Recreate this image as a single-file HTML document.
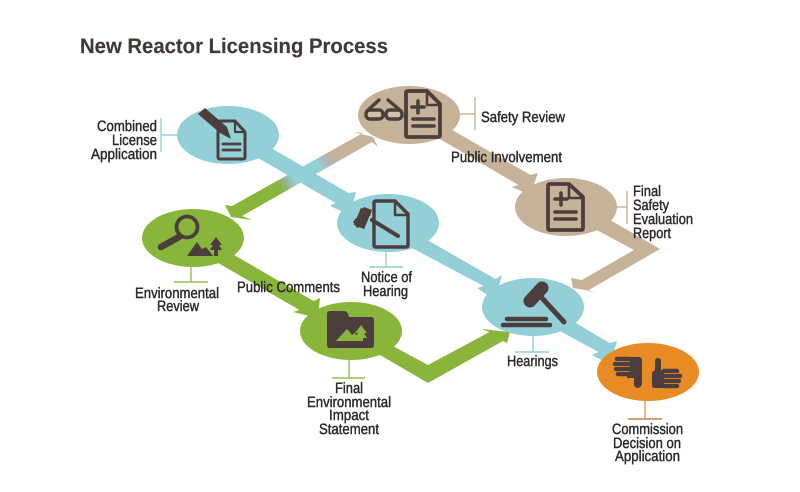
<!DOCTYPE html>
<html>
<head>
<meta charset="utf-8">
<style>
html,body{margin:0;padding:0;background:#fff;width:800px;height:492px;overflow:hidden}
svg{display:block;filter:blur(.3px)}
text{font-family:"Liberation Sans",sans-serif;font-size:15px;fill:#2a2627;stroke:#2a2627;stroke-width:.42px;text-rendering:geometricPrecision}
.t{font-size:21px;font-weight:bold;fill:#433838;stroke:#433838;stroke-width:.15px}
</style>
</head>
<body>
<svg width="800" height="492" viewBox="0 0 800 492" xmlns="http://www.w3.org/2000/svg">
<defs>
<linearGradient id="g" gradientUnits="userSpaceOnUse" x1="232" y1="211" x2="373" y2="130">
<stop offset="0" stop-color="#8ab53b"/>
<stop offset=".32" stop-color="#8ab53b"/>
<stop offset=".37" stop-color="#93b58a"/>
<stop offset=".43" stop-color="#93cfd7"/>
<stop offset=".6" stop-color="#93cfd7"/>
<stop offset=".66" stop-color="#b3b5b2"/>
<stop offset=".72" stop-color="#c5b298"/>
<stop offset="1" stop-color="#c5b298"/>
</linearGradient>
</defs>

<text class="t" x="80" y="53" textLength="308" lengthAdjust="spacingAndGlyphs">New Reactor Licensing Process</text>

<!-- leader lines -->
<g fill="none" stroke-width="1.4">
<path stroke="#93cfd7" d="M161 118V152M161 135H178"/>
<path stroke="#c9b69c" d="M475 97V130M459 114H475"/>
<path stroke="#c9b69c" d="M627 191V224M616 207H627"/>
<path stroke="#93c050" d="M191 266V282M174 282H208"/>
<path stroke="#93cfd7" d="M386 251V267M369 267H403"/>
<path stroke="#93c050" d="M349 359V378M332 378H365"/>
<path stroke="#93cfd7" d="M533 335V352M515 352H549"/>
<path stroke="#e4965a" d="M645 400V419"/><path stroke="#c98146" d="M628 419H662"/>
</g>

<!-- cross band green to tan -->
<polygon fill="url(#g)" points="225,205 232,206 363,133 353,132 373,137 378,147 372,142 242,216 252,220 231,217"/>
<!-- blue band -->
<polygon fill="#93cfd7" points="262.5,143 348.5,193 356,192 350,215 330,206 335.5,203 249.5,153"/>
<!-- blue: notice to hearings -->
<polygon fill="#93cfd7" points="418.5,235 495.5,279 502,275 495,300 477,288 483.5,286 404.5,244"/>
<!-- blue: hearings to commission -->
<polygon fill="#93cfd7" points="567.5,318 609.5,343 617,341 610,365 592,355 598.5,352 552.5,327"/>
<!-- tan: safety to final -->
<polygon fill="#c5b298" points="443.5,125 530.5,175 538,173 530,195 512,187 518.5,185 429.5,133"/>
<!-- tan: final to hearings -->
<polygon fill="#c5b298" points="601.5,215 660,249 587,291 597,292 573,288 571,278 582,280 634,250 587.5,225"/>
<!-- green: env to FEIS -->
<polygon fill="#8ab53b" points="225.5,250 313.5,301 320,298 318,318 293,312 299.5,310 209.5,258"/>
<!-- green: FEIS to hearings -->
<polygon fill="#8ab53b" points="383.5,341 428,365 489.5,332 481,329 510,332 507,343 503,341 428,383 371.5,350"/>

<!-- nodes -->
<ellipse cx="228" cy="135" rx="51" ry="29" fill="#93cfd7"/>
<ellipse cx="409" cy="115" rx="51" ry="29" fill="#c5b298"/>
<ellipse cx="566" cy="207" rx="51" ry="29" fill="#c5b298"/>
<ellipse cx="388" cy="223" rx="51" ry="29" fill="#93cfd7"/>
<ellipse cx="193" cy="238" rx="51" ry="29" fill="#8ab53b"/>
<ellipse cx="351" cy="331" rx="51" ry="29" fill="#8ab53b"/>
<ellipse cx="533" cy="307" rx="51" ry="29" fill="#93cfd7"/>
<ellipse cx="648" cy="372" rx="51" ry="29" fill="#e88b24"/>

<!-- icons -->
<g fill="none" stroke="#4b3e3d" stroke-linejoin="round" stroke-linecap="round">
<!-- application doc -->
<path stroke-width="3" d="M220 121H235L245 132V157Q245 159 243 159H220Q218 159 218 157V123Q218 121 220 121Z"/>
<path stroke-width="2.2" d="M235 122V132H244"/>
<path stroke-width="2.8" d="M223 144H240M223 150H240"/>
<!-- safety doc -->
<path stroke-width="3.8" d="M408 91H427L440 104V135Q440 137 438 137H408Q406 137 406 135V93Q406 91 408 91Z"/>
<path stroke-width="2.6" d="M427 92V105H439"/>
<path stroke-width="3.6" d="M418 101V113M412 107H424M413 119H434M413 126H434"/>
<!-- glasses -->
<rect x="366" y="110" width="17" height="9" rx="4" stroke-width="3.4" fill="#d3c3aa"/>
<rect x="386" y="110" width="16" height="9" rx="4" stroke-width="3.4" fill="#d3c3aa"/>
<path stroke-width="3.4" d="M367 111L379 100M388 100L401 111"/>
<!-- final safety doc -->
<path stroke-width="3.8" d="M550 184H569L583 197V228Q583 230 581 230H550Q548 230 548 228V186Q548 184 550 184Z"/>
<path stroke-width="2.6" d="M569 185V198H582"/>
<path stroke-width="3.6" d="M561 193V205M555 199H567M555 212H576M555 219H576"/>
<!-- notice doc -->
<path stroke-width="3.4" d="M376 201H395L408 214V245Q408 247 406 247H376Q374 247 374 245V203Q374 201 376 201Z"/>
<path stroke-width="2.4" d="M395 202V215H407"/>
<path stroke-width="4" d="M372 220L398 236"/>
<path stroke-width="11" stroke-linecap="butt" d="M366 210L359 227"/>
<!-- magnifier -->
<circle cx="187" cy="227" r="10.5" stroke-width="3.8"/>
<path stroke-width="6.5" d="M179 237L161 247"/>
<!-- gavel hearings -->
<path stroke-width="5" d="M542 298L564 322"/>
<path stroke-width="4.5" d="M507 319H546M503 325H550"/>
<path stroke-width="13" d="M542 288L530 301"/>
</g>
<g fill="#4b3e3d">
<!-- pen -->
<path d="M198 114L205 108L227 127L231 139L220 133Z"/>
<!-- notice gavel notch -->
<path d="M356 218L353 222L357 228L362 226ZM364 207L360 212L370 216L372 210Z"/>
<!-- mountains tree env -->
<polygon points="187,256 197,242 202,249 206,247 213,256"/>
<polygon points="216,237 222,245 219,245 222,250 218,250 218,256 214,256 214,250 210,250 213,245 210,245"/>
<!-- folder -->
<path d="M330 311H344Q347 311 348 314L349 317H371Q374 317 374 320V345Q374 348 371 348H330Q327 348 327 345V314Q327 311 330 311Z"/>
<!-- thumbs down -->
<path d="M627 357H639Q642 357 642 360V384Q641 388 637 388Q634 387 634 384V378H627Z"/>
<g stroke="#4b3e3d" stroke-width="4.4" stroke-linecap="round"><path d="M617 359H629M615 364H629M616 369H629M618 374H629"/></g>
<!-- thumbs up -->
<path d="M655 361Q655 358 658 358Q661 358 661 361V370H665V388H655Q652 388 652 385V373Q653 371 655 370Z"/>
<g stroke="#4b3e3d" stroke-width="4.4" stroke-linecap="round"><path d="M664 371H677M664 376H680M664 381H679M664 386H677"/></g>
</g>
<g fill="#8ab53b">
<polygon points="336,341 347,329 352,335 355,333 361,341"/>
<polygon points="361,325 367,333 364,333 367,338 363,338 363,341 359,341 359,338 355,338 358,333 355,333"/>
</g>
<g stroke="#e88b24" stroke-width=".8" fill="none"><path d="M630 361.5H616M630 366.5H615M630 371.5H617M664 373.5H679M664 378.5H680M664 383.5H679"/></g>

<!-- labels -->
<text x="97" y="131" textLength="60" lengthAdjust="spacingAndGlyphs">Combined</text>
<text x="112" y="145" textLength="45" lengthAdjust="spacingAndGlyphs">License</text>
<text x="91" y="159" textLength="66" lengthAdjust="spacingAndGlyphs">Application</text>
<text x="481" y="122" textLength="84" lengthAdjust="spacingAndGlyphs">Safety Review</text>
<text x="451" y="162" textLength="111" lengthAdjust="spacingAndGlyphs">Public Involvement</text>
<text x="633" y="196" textLength="28" lengthAdjust="spacingAndGlyphs">Final</text>
<text x="633" y="210" textLength="36" lengthAdjust="spacingAndGlyphs">Safety</text>
<text x="633" y="224" textLength="60" lengthAdjust="spacingAndGlyphs">Evaluation</text>
<text x="633" y="238" textLength="38" lengthAdjust="spacingAndGlyphs">Report</text>
<text x="361" y="282" textLength="51" lengthAdjust="spacingAndGlyphs">Notice of</text>
<text x="363" y="296" textLength="45" lengthAdjust="spacingAndGlyphs">Hearing</text>
<text x="135" y="298" textLength="84" lengthAdjust="spacingAndGlyphs">Environmental</text>
<text x="157" y="311" textLength="42" lengthAdjust="spacingAndGlyphs">Review</text>
<text x="237" y="292" textLength="103" lengthAdjust="spacingAndGlyphs">Public Comments</text>
<text x="335" y="393" textLength="28" lengthAdjust="spacingAndGlyphs">Final</text>
<text x="307" y="407" textLength="84" lengthAdjust="spacingAndGlyphs">Environmental</text>
<text x="329" y="420" textLength="40" lengthAdjust="spacingAndGlyphs">Impact</text>
<text x="319" y="434" textLength="60" lengthAdjust="spacingAndGlyphs">Statement</text>
<text x="507" y="366" textLength="51" lengthAdjust="spacingAndGlyphs">Hearings</text>
<text x="612" y="434" textLength="71" lengthAdjust="spacingAndGlyphs">Commission</text>
<text x="613" y="448" textLength="68" lengthAdjust="spacingAndGlyphs">Decision on</text>
<text x="615" y="461" textLength="65" lengthAdjust="spacingAndGlyphs">Application</text>
</svg>
</body>
</html>
